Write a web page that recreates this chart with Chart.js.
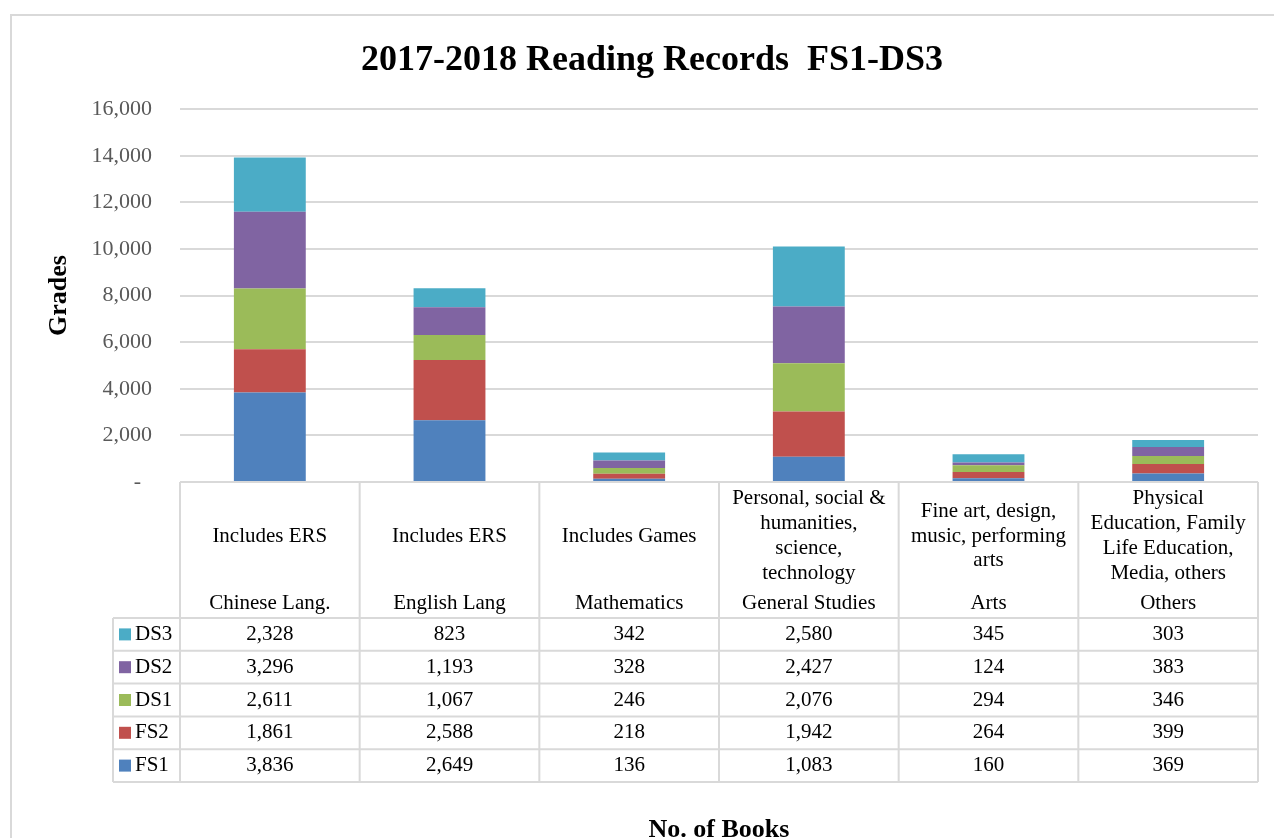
<!DOCTYPE html>
<html>
<head>
<meta charset="utf-8">
<title>2017-2018 Reading Records FS1-DS3</title>
<script src="https://cdn.jsdelivr.net/npm/chart.js@4"></script>
<style>
	body { margin: 0; background: #fff; }
	canvas { display: block; }
</style>
</head>
<body>
<canvas id="chart" width="1274" height="838"></canvas>
<script>
const categories = ['Chinese Lang.', 'English Lang', 'Mathematics', 'General Studies', 'Arts', 'Others'];
const notes = [
	['Includes ERS'],
	['Includes ERS'],
	['Includes Games'],
	['Personal, social &', 'humanities,', 'science,', 'technology'],
	['Fine art, design,', 'music, performing', 'arts'],
	['Physical', 'Education, Family', 'Life Education,', 'Media, others']
];
const seriesNames = ['FS1', 'FS2', 'DS1', 'DS2', 'DS3'];
const fs1 = [3836, 2649, 136, 1083, 160, 369];
const fs2 = [1861, 2588, 218, 1942, 264, 399];
const ds1 = [2611, 1067, 246, 2076, 294, 346];
const ds2 = [3296, 1193, 328, 2427, 124, 383];
const ds3 = [2328, 823, 342, 2580, 345, 303];
const colors = ['#4f81bd', '#c0504d', '#9bbb59', '#8064a2', '#4bacc6'];
const yMax = 16000;
const yStep = 2000;

const serif = '"Liberation Serif", "Times New Roman", serif';
const lineColor = '#d9d9d9';

let seriesValues = [fs1, fs2, ds1, ds2, ds3];
let datasets = seriesNames.map((name, i) => {
	return {
		label: name,
		data: seriesValues[i],
		backgroundColor: colors[i],
		barPercentage: 0.4,
		categoryPercentage: 1.0
	};
});

// white page + chart frame
const framePlugin = {
	id: 'frame',
	beforeDraw(chart) {
		let c = chart.ctx;
		c.save();
		c.fillStyle = '#fff';
		c.fillRect(0, 0, chart.width, chart.height);
		c.strokeStyle = lineColor;
		c.lineWidth = 2;
		c.beginPath();
		c.moveTo(11, chart.height);
		c.lineTo(11, 15);
		c.lineTo(chart.width, 15);
		c.stroke();
		c.restore();
	}
};

// data table under the plot, laid out on the x scale
const tablePlugin = {
	id: 'dataTable',
	afterDraw(chart) {
		let c = chart.ctx;
		let x = chart.scales.x;
		let area = chart.chartArea;
		let n = categories.length;
		let half = (area.right - area.left) / n / 2;
		let top = area.bottom;
		let headBottom = top + 136;
		let rowH = 32.8;
		let rows = chart.data.datasets.slice().reverse();
		let tableBottom = headBottom + rowH * rows.length;
		let keyLeft = 113;

		c.save();
		c.strokeStyle = lineColor;
		c.lineWidth = 2;
		c.beginPath();
		c.moveTo(area.left, top);
		c.lineTo(area.right, top);
		for (let r = 0; r <= rows.length; r++) {
			let y = headBottom + r * rowH;
			c.moveTo(keyLeft, y);
			c.lineTo(area.right, y);
		}
		for (let i = 0; i <= n; i++) {
			let bx = i < n ? x.getPixelForValue(i) - half : x.getPixelForValue(n - 1) + half;
			c.moveTo(bx, top);
			c.lineTo(bx, tableBottom);
		}
		c.moveTo(keyLeft, headBottom);
		c.lineTo(keyLeft, tableBottom);
		c.stroke();

		c.fillStyle = '#000';
		c.font = '21px ' + serif;
		c.textAlign = 'center';
		c.textBaseline = 'middle';
		categories.forEach((cat, i) => {
			let cx = x.getPixelForValue(i);
			let lines = notes[i];
			let lh = 24.8;
			let y0 = top + 54 - (lines.length - 1) * lh / 2;
			lines.forEach((line, k) => {
				c.fillText(line, cx, y0 + k * lh);
			});
			c.fillText(cat, cx, headBottom - 15);
		});

		rows.forEach((ds, r) => {
			let cy = headBottom + r * rowH + rowH / 2;
			c.fillStyle = ds.backgroundColor;
			c.fillRect(keyLeft + 6, cy - 6, 12, 12);
			c.fillStyle = '#000';
			c.textAlign = 'left';
			c.fillText(ds.label, keyLeft + 22, cy);
			c.textAlign = 'center';
			ds.data.forEach((v, i) => {
				c.fillText(v.toLocaleString('en-US'), x.getPixelForValue(i), cy);
			});
		});
		c.restore();
	}
};

let chart = new Chart(document.getElementById('chart'), {
	type: 'bar',
	data: {
		labels: categories,
		datasets: datasets
	},
	options: {
		responsive: false,
		animation: false,
		layout: {
			padding: { top: 0, left: 10, right: 16, bottom: 0 }
		},
		plugins: {
			legend: { display: false },
			tooltip: { enabled: false },
			title: {
				display: true,
				// leading spaces nudge the centred title right, as in the original frame
				text: '    2017-2018 Reading Records  FS1-DS3',
				color: '#000',
				font: { family: serif, size: 36, weight: 'bold', lineHeight: 1.2 },
				padding: { top: 39, bottom: 27 }
			}
		},
		scales: {
			x: {
				stacked: true,
				grid: { display: false },
				border: { display: false },
				ticks: { display: false },
				title: {
					display: true,
					text: 'No. of Books',
					color: '#000',
					font: { family: serif, size: 26, weight: 'bold', lineHeight: 1.2 },
					padding: { top: 0, bottom: -8 }
				},
				afterFit: (scale) => { scale.height = 356; }
			},
			y: {
				stacked: true,
				min: 0,
				max: yMax,
				border: { display: false },
				grid: { color: lineColor, lineWidth: 2, drawTicks: false },
				ticks: {
					stepSize: yStep,
					padding: 28,
					color: '#595959',
					font: { family: serif, size: 22 },
					callback: (v) => v === 0 ? '-  ' : v.toLocaleString('en-US')
				},
				title: {
					display: true,
					text: 'Grades',
					color: '#000',
					font: { family: serif, size: 26, weight: 'bold', lineHeight: 1.2 },
					padding: { top: 34, bottom: 0 }
				},
				afterFit: (scale) => { scale.width = 170; }
			}
		}
	},
	plugins: [framePlugin, tablePlugin]
});
</script>
</body>
</html>
